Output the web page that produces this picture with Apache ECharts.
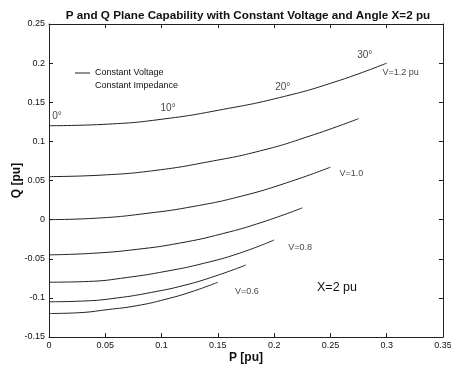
<!DOCTYPE html>
<html>
<head>
<meta charset="utf-8">
<script src="https://cdn.jsdelivr.net/npm/echarts@6/dist/echarts.min.js"></script>
<style>html,body{margin:0;padding:0;background:#fff;}#c{width:451px;height:366px;}</style>
</head>
<body>
<div id="c"></div>
<script>
const titleText = 'P and Q Plane Capability with Constant Voltage and Angle X=2 pu';
const xTicks = [0, 0.05, 0.1, 0.15, 0.2, 0.25, 0.3, 0.35];
const yTicks = [-0.15, -0.1, -0.05, 0, 0.05, 0.1, 0.15, 0.2, 0.25];
const angleLabels = ['0°', '10°', '20°', '30°'];
const angleIdx = [0, 2, 4, 6];

const P_12 = [0, 0.052, 0.104, 0.155, 0.205, 0.254, 0.300];
const Q_12 = [0.120, 0.122, 0.129, 0.141, 0.156, 0.176, 0.200];
const P_11 = [0, 0.048, 0.095, 0.142, 0.188, 0.232, 0.275];
const Q_11 = [0.055, 0.057, 0.063, 0.074, 0.088, 0.107, 0.129];
const P_10 = [0, 0.044, 0.087, 0.129, 0.171, 0.211, 0.250];
const Q_10 = [0, 0.002, 0.008, 0.017, 0.030, 0.047, 0.067];
const P_09 = [0, 0.039, 0.078, 0.116, 0.154, 0.190, 0.225];
const Q_09 = [-0.045, -0.043, -0.038, -0.030, -0.018, -0.003, 0.015];
const P_08 = [0, 0.035, 0.069, 0.104, 0.137, 0.169, 0.200];
const Q_08 = [-0.080, -0.079, -0.074, -0.066, -0.056, -0.043, -0.026];
const P_07 = [0, 0.031, 0.061, 0.091, 0.120, 0.148, 0.175];
const Q_07 = [-0.105, -0.104, -0.100, -0.093, -0.084, -0.072, -0.058];
const P_06 = [0, 0.026, 0.052, 0.078, 0.103, 0.127, 0.150];
const Q_06 = [-0.120, -0.119, -0.115, -0.110, -0.102, -0.092, -0.080];

const curves = [
  {name: 'V=1.2 pu', P: P_12, Q: Q_12, label: 'V=1.2 pu'},
  {name: 'V=1.1', P: P_11, Q: Q_11, label: ''},
  {name: 'V=1.0', P: P_10, Q: Q_10, label: 'V=1.0'},
  {name: 'V=0.9', P: P_09, Q: Q_09, label: ''},
  {name: 'V=0.8', P: P_08, Q: Q_08, label: 'V=0.8'},
  {name: 'V=0.7', P: P_07, Q: Q_07, label: ''},
  {name: 'V=0.6', P: P_06, Q: Q_06, label: 'V=0.6'}
];
const endOffsets = {'V=1.2 pu': [14, 9], 'V=1.0': [21, 6], 'V=0.8': [26, 8], 'V=0.6': [29, 9]};
const angleOffsets = [[8, -9], [2, -10], [3, -10], [-22, -8]];

const FONT = 'Liberation Sans, Arial, sans-serif';
const series = [];
curves.forEach(c => {
  const data = c.P.map((p, i) => [p, c.Q[i]]);
  series.push({
    type: 'line', name: c.name, data: data, smooth: true, showSymbol: false, symbol: 'none',
    lineStyle: {color: '#222', width: 1}, silent: true, z: 2
  });
  if (c.label) {
    series.push({
      type: 'scatter', data: [data[data.length - 1]], symbolSize: 0, silent: true,
      label: {show: true, formatter: c.label, position: 'inside', offset: endOffsets[c.label],
        color: '#111', fontSize: 9, fontFamily: FONT}
    });
  }
});
series.push({
  type: 'scatter', symbolSize: 0, silent: true,
  data: angleIdx.map((k, j) => ({value: [P_12[k], Q_12[k]],
    label: {show: true, formatter: angleLabels[j], position: 'inside', offset: angleOffsets[j],
      color: '#111', fontSize: 10, fontFamily: FONT}}))
});

const axisCommon = {
  axisLine: {show: true, onZero: false, lineStyle: {color: '#222', width: 1}},
  axisTick: {show: true, inside: true, length: 4, lineStyle: {color: '#222'}},
  splitLine: {show: false}
};
const chart = echarts.init(document.getElementById('c'), null, {renderer: 'canvas'});
chart.setOption({
  animation: false,
  backgroundColor: '#fff',
  title: {text: titleText, left: 243, top: 5, textAlign: 'center',
    textStyle: {fontSize: 11.7, fontWeight: 'bold', fontFamily: FONT, color: '#111'}},
  grid: {left: 49, right: 8, top: 24, bottom: 29, containLabel: false, outerBoundsMode: 'none'},
  xAxis: [
    Object.assign({type: 'value', min: 0, max: 0.35, interval: 0.05, name: 'P [pu]',
      nameLocation: 'middle', nameGap: 15, nameMoveOverlap: false,
      nameTextStyle: {fontSize: 12, fontWeight: 'bold', fontFamily: FONT, color: '#111'},
      axisLabel: {fontSize: 9, fontFamily: FONT, color: '#111', margin: 4}}, axisCommon),
    Object.assign({type: 'value', min: 0, max: 0.35, interval: 0.05, position: 'top',
      axisLabel: {show: false}}, axisCommon)
  ],
  yAxis: [
    Object.assign({type: 'value', min: -0.15, max: 0.25, interval: 0.05, name: 'Q [pu]',
      nameLocation: 'middle', nameGap: 26, nameRotate: 90, nameMoveOverlap: false,
      nameTextStyle: {fontSize: 12, fontWeight: 'bold', fontFamily: FONT, color: '#111'},
      axisLabel: {fontSize: 9, fontFamily: FONT, color: '#111', margin: 4}}, axisCommon),
    Object.assign({type: 'value', min: -0.15, max: 0.25, interval: 0.05, position: 'right',
      axisLabel: {show: false}}, axisCommon)
  ],
  graphic: [
    {type: 'line', shape: {x1: 75, y1: 73, x2: 90, y2: 73}, style: {stroke: '#222', lineWidth: 1}},
    {type: 'text', left: 95, top: 68, style: {text: 'Constant Voltage', fontSize: 9, fontFamily: FONT, fill: '#111'}},
    {type: 'text', left: 95, top: 81, style: {text: 'Constant Impedance', fontSize: 9, fontFamily: FONT, fill: '#111'}},
    {type: 'text', left: 317, top: 281, style: {text: 'X=2 pu', fontSize: 12.5, fontFamily: FONT, fill: '#111'}}
  ],
  series: series
});
</script>
</body>
</html>
